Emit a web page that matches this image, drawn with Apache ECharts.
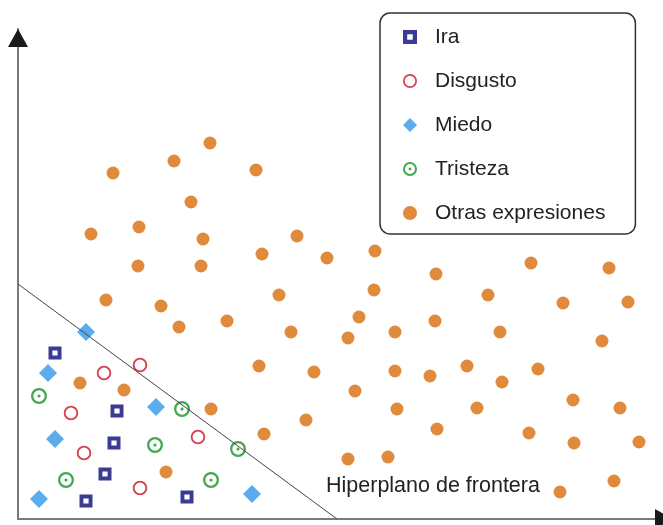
<!DOCTYPE html>
<html>
<head>
<meta charset="utf-8">
<script src="https://cdn.jsdelivr.net/npm/echarts@6/dist/echarts.min.js"></script>
<style>html,body{margin:0;padding:0;background:#fff}#c{width:663px;height:525px}</style>
</head>
<body>
<div id="c"></div>
<script>
// Values (arbitrary units: x right, y up from origin)
const ira = [[37,166],[99,108],[96,76],[87,45],[68,18],[169,22]];
const disgusto = [[122,154],[86,146],[53,106],[66,66],[122,31],[180,82]];
const miedo = [[68,187],[30,146],[138,112],[37,80],[21,20],[234,25]];
const tristeza = [[21,123],[137,74],[48,39],[164,110],[220,70],[193,39]];
const otras = [
  [95,346],[156,358],[192,376],[238,349],[173,317],[73,285],[121,292],[185,280],
  [279,283],[244,265],[309,261],[357,268],[120,253],[183,253],[418,245],[513,256],
  [591,251],[88,219],[143,213],[261,224],[356,229],[470,224],[545,216],[610,217],
  [161,192],[209,198],[341,202],[417,198],[273,187],[330,181],[377,187],[482,187],
  [584,178],[241,153],[296,147],[377,148],[412,143],[449,153],[520,150],[337,128],
  [484,137],[193,110],[288,99],[379,110],[459,111],[555,119],[602,111],[246,85],
  [419,90],[511,86],[556,76],[621,77],[330,60],[370,62],[596,38],[542,27],
  [62,136],[106,129],[148,47]
];
const boundary = [[0,235],[319,0]];
const names = ['Ira','Disgusto','Miedo','Tristeza','Otras expresiones'];
const xMax = 640, yMax = 490;

const FONT = 'Liberation Sans, Arial, sans-serif';
const symIra = 'path://M0,0L10,0L10,10L0,10Z M3,3L3,7L7,7L7,3Z';
const symDis = 'path://M10,0A10,10,0,1,1,10,20A10,10,0,1,1,10,0Z M10,2.5A7.5,7.5,0,1,0,10,17.5A7.5,7.5,0,1,0,10,2.5Z';
const symTri = 'path://M10,0A10,10,0,1,1,10,20A10,10,0,1,1,10,0Z M10,2.9A7.1,7.1,0,1,0,10,17.1A7.1,7.1,0,1,0,10,2.9Z M10,8A2,2,0,1,1,10,12A2,2,0,1,1,10,8Z';

function sc(name, data, symbol, size, color){
  return {name, type:'scatter', data, symbol, symbolSize:size,
    itemStyle:{color, opacity:1}, emphasis:{disabled:true}, z:2};
}

const chart = echarts.init(document.getElementById('c'), null, {renderer:'canvas'});
chart.setOption({
  animation:false,
  backgroundColor:'#fff',
  grid:{left:18, right:5, top:29, bottom:6, containLabel:false},
  xAxis:{type:'value', min:0, max:xMax, axisLine:{show:true, onZero:false, lineStyle:{color:'#7a7a7a', width:2}},
    axisTick:{show:false}, axisLabel:{show:false}, splitLine:{show:false}},
  yAxis:{type:'value', min:0, max:yMax, axisLine:{show:true, onZero:false, lineStyle:{color:'#7a7a7a', width:2}},
    axisTick:{show:false}, axisLabel:{show:false}, splitLine:{show:false}},
  legend:{
    orient:'vertical', left:380, top:13,
    itemWidth:14, itemHeight:14, itemGap:22,
    padding:[13,30,10,23],
    borderColor:'#333', borderWidth:1.5, borderRadius:10, backgroundColor:'#fff',
    textStyle:{fontSize:21, fontFamily:FONT, color:'#222', lineHeight:22, padding:[0,0,0,13]},
    selectedMode:false,
    data:names
  },
  series:[
    sc(names[0], ira, symIra, 13, '#3b3b95'),
    sc(names[1], disgusto, symDis, 14.5, '#d93f4c'),
    sc(names[2], miedo, 'diamond', 18, '#5aacee'),
    sc(names[3], tristeza, symTri, 16, '#44a851'),
    sc(names[4], otras, 'circle', 13, '#e08a3c'),
    {name:'boundary', type:'line', data:boundary, symbol:'none', silent:true, z:3,
      lineStyle:{color:'#444', width:1}}
  ]
});

const pO = chart.convertToPixel({gridIndex:0}, [0,0]);
const pTop = chart.convertToPixel({gridIndex:0}, [0,yMax]);
const pRight = chart.convertToPixel({gridIndex:0}, [xMax,0]);
chart.setOption({graphic:[
  {type:'polygon', z:10, shape:{points:[[pTop[0],pTop[1]],[pTop[0]-10,pTop[1]+18],[pTop[0]+10,pTop[1]+18]]}, style:{fill:'#1a1a1a'}},
  {type:'polygon', z:10, shape:{points:[[pRight[0]-3,pO[1]-10],[pRight[0]+15,pO[1]],[pRight[0]-3,pO[1]+10]]}, style:{fill:'#1a1a1a'}},
  {type:'text', z:10, left:326, top:475, style:{text:'Hiperplano de frontera', font:'21.5px ' + FONT, fill:'#222'}}
]});
</script>
</body>
</html>
